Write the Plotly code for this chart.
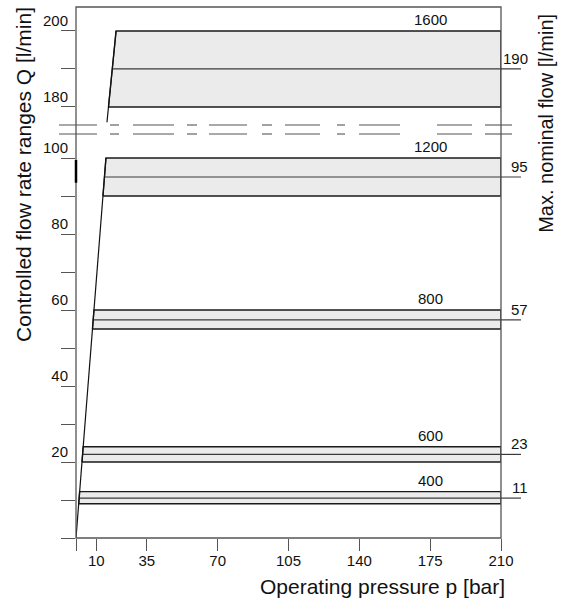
import plotly.graph_objects as go
import numpy as np

# ---------------- data ----------------
band_names = ["400", "600", "800", "1200", "1600"]
band_q_min = [9.0, 20.0, 55.0, 90.0, 180.0]
band_q_max = [12.2, 24.0, 60.0, 100.0, 200.0]
nominal_q = [10.5, 22.0, 57.4, 95.0, 190.0]      # drawn position of nominal line
nominal_labels = ["11", "23", "57", "95", "190"]
p_max = 210

# ramp (start of controlled range), split by the axis break
ramp_lower_p = [0.0, 14.8]
ramp_lower_q = [0.0, 100.0]
ramp_upper_p = [15.3, 19.8]
ramp_upper_q = [176.0, 200.0]

pressure_ticks = [0, 10, 35, 70, 105, 140, 175, 210]
pressure_ticklabels = ["", "10", "35", "70", "105", "140", "175", "210"]
lower_q_ticks = [0, 10, 20, 30, 40, 50, 60, 70, 80, 90, 100]
lower_q_ticklabels = ["", "", "20", "", "40", "", "60", "", "80", "", "100"]
upper_q_ticks = [180, 190, 200]
upper_q_ticklabels = ["180", "", "200"]

# ---------------- style ----------------
FONT = "Liberation Sans, Arial, sans-serif"
FILL = "#ebebeb"
EDGE = "#1a1a1a"
MID = "#3a3a3a"
FRAME = "#555555"
BREAK_DOMAIN = 0.7693
LOWER_RANGE = [0, 107.5]
UPPER_RANGE = [174.08, 206.3]

fig = go.Figure()


def left_edge(q):
    if q <= ramp_lower_q[-1]:
        return float(np.interp(q, ramp_lower_q, ramp_lower_p))
    return float(np.interp(q, ramp_upper_q, ramp_upper_p))


for name, qmin, qmax, qn in zip(band_names, band_q_min, band_q_max, nominal_q):
    ya = "y2" if qmin >= 150 else "y"
    pl0, pl1 = left_edge(qmin), left_edge(qmax)
    fig.add_trace(go.Scatter(
        x=[pl0, p_max, p_max, pl1, pl0], y=[qmin, qmin, qmax, qmax, qmin],
        mode="lines", fill="toself", fillcolor=FILL,
        line=dict(color=EDGE, width=1.4), yaxis=ya, showlegend=False,
        hoverinfo="skip"))
    fig.add_trace(go.Scatter(
        x=[left_edge(qn), p_max], y=[qn, qn], mode="lines",
        line=dict(color=MID, width=1.2), yaxis=ya, showlegend=False,
        hoverinfo="skip"))

fig.add_trace(go.Scatter(x=ramp_lower_p, y=ramp_lower_q, mode="lines",
                         line=dict(color="#111", width=1.2), yaxis="y",
                         showlegend=False, hoverinfo="skip"))
fig.add_trace(go.Scatter(x=ramp_upper_p, y=ramp_upper_q, mode="lines",
                         line=dict(color="#111", width=1.2), yaxis="y2",
                         showlegend=False, hoverinfo="skip"))

shapes = []
annotations = []
# frame
shapes.append(dict(type="rect", xref="paper", yref="paper", x0=0, x1=1, y0=0, y1=1,
                   line=dict(color=FRAME, width=1.3), layer="above"))
# dark mark on left axis
shapes.append(dict(type="line", xref="paper", yref="y", x0=0, x1=0, y0=93.5, y1=99.5,
                   line=dict(color="#000", width=2.5)))

# nominal extension ticks and labels, band labels
for name, qmin, qmax, qn, lab in zip(band_names, band_q_min, band_q_max, nominal_q, nominal_labels):
    ya = "y2" if qmin >= 150 else "y"
    shapes.append(dict(type="line", xref="paper", yref=ya, x0=1.0, x1=1.047, y0=qn, y1=qn,
                       line=dict(color=MID, width=1.2)))
    annotations.append(dict(xref="paper", yref=ya, x=1.068, y=qn, text=lab,
                            xanchor="right", yanchor="bottom", yshift=0, showarrow=False,
                            font=dict(family=FONT, size=15, color="#111")))
    annotations.append(dict(xref="x", yref=ya, x=175, y=qmax, text=name,
                            xanchor="center", yanchor="bottom", yshift=1, showarrow=False,
                            font=dict(family=FONT, size=15, color="#111")))

# axis-break markers (decorative)
W, L = 425.0, 76.0
break_segments_px = [(59, 97), (110, 119), (133, 174), (187, 197), (209, 247), (262, 272),
                     (285, 320), (337, 345), (359, 400), (437, 472), (485, 512)]
for ypx in (125, 134):
    yp = (538 - ypx) / 531.0
    for a, b in break_segments_px:
        shapes.append(dict(type="line", xref="paper", yref="paper",
                           x0=(a - L) / W, x1=(b - L) / W, y0=yp, y1=yp,
                           line=dict(color=FRAME, width=1.1)))

# titles
annotations.append(dict(xref="paper", yref="paper", x=0.722, y=-0.0904,
                        text="Operating pressure p [bar]", showarrow=False,
                        xanchor="center", yanchor="middle",
                        font=dict(family=FONT, size=21, color="#111")))
annotations.append(dict(xref="paper", yref="paper", x=-0.122, y=0.684,
                        text="Controlled flow rate ranges Q [l/min]", showarrow=False,
                        textangle=-90, xanchor="center", yanchor="middle",
                        font=dict(family=FONT, size=21, color="#111")))
annotations.append(dict(xref="paper", yref="paper", x=1.106, y=0.78,
                        text="Max. nominal flow [l/min]", showarrow=False,
                        textangle=-90, xanchor="center", yanchor="middle",
                        font=dict(family=FONT, size=20, color="#111")))

yax_common = dict(ticks="outside", ticklen=14, tickcolor=FRAME, tickwidth=1.2,
                  showline=False, showgrid=False, zeroline=False,
                  ticklabelshift=-10, ticklabelstandoff=-10,
                  tickfont=dict(family=FONT, size=15, color="#111"))

fig.update_layout(
    width=567, height=604,
    margin=dict(l=76, r=66, t=7, b=66),
    plot_bgcolor="white", paper_bgcolor="white",
    xaxis=dict(range=[0, p_max], tickmode="array", tickvals=pressure_ticks,
               ticktext=pressure_ticklabels, ticks="outside", ticklen=12,
               tickcolor=FRAME, tickwidth=1.2, showline=False, showgrid=False,
               zeroline=False, anchor="y", ticklabelstandoff=-3,
               tickfont=dict(family=FONT, size=15, color="#111")),
    yaxis=dict(domain=[0, BREAK_DOMAIN], range=LOWER_RANGE, tickmode="array",
               tickvals=lower_q_ticks, ticktext=lower_q_ticklabels, anchor="x",
               **yax_common),
    yaxis2=dict(domain=[BREAK_DOMAIN, 1], range=UPPER_RANGE, tickmode="array",
                tickvals=upper_q_ticks, ticktext=upper_q_ticklabels, anchor="x",
                **yax_common),
    shapes=shapes, annotations=annotations,
    showlegend=False,
)

fig.write_html("out.html", config={"displayModeBar": False},
               post_script="document.body.style.margin='0';document.body.style.overflow='hidden';")
